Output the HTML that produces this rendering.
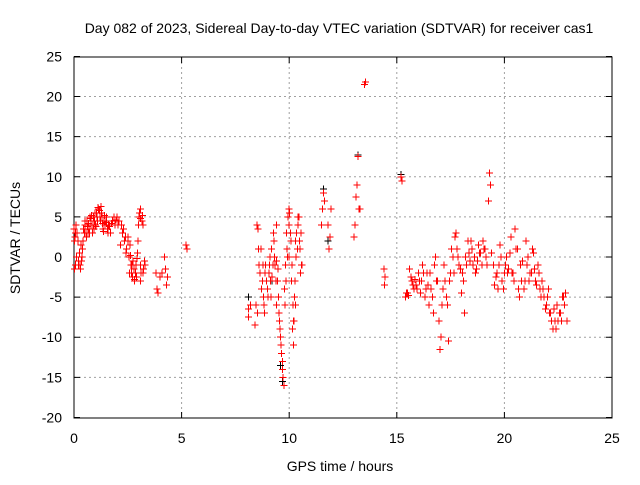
<!DOCTYPE html>
<html><head><meta charset="utf-8"><style>
body{margin:0;background:#fff}
text{font-family:"Liberation Sans",sans-serif;font-size:14px;fill:#000}
</style></head><body>
<svg id="chart" width="640" height="480" xmlns="http://www.w3.org/2000/svg">
<rect width="640" height="480" fill="#fff"/>
<text x="339" y="33" text-anchor="middle">Day 082 of 2023, Sidereal Day-to-day VTEC variation (SDTVAR) for receiver cas1</text>
<g id="grid"></g>
<g id="axes"></g>
<g id="marks" shape-rendering="crispEdges"></g>
<text x="340" y="471" text-anchor="middle">GPS time / hours</text>
<text transform="translate(20,238) rotate(-90)" text-anchor="middle">SDTVAR / TECUs</text>
</svg>
<script>
const xTicks=[0,5,10,15,20,25];
const yTicks=[25,20,15,10,5,0,-5,-10,-15,-20];
const blackTimes=[8.1,8.5,9.6,9.7,10.0,10.3,11.6,11.8,11.85,13.2,15.2,15.6,9.2];
const blackValues=[-5,4,-13.5,-15.5,6,-6,8.5,2,1,12.7,10.3,-1.5,-3];
const redTimes=[0,0.02,0.05,0.08,0.1,0.15,0.2,0.25,0.3,0.35,0.4,0.45,0.5,0.55,0.6,0.65,0.7,0.75,0.8,0.85,0.9,0.95,1.0,1.05,1.1,1.15,1.2,1.25,1.3,1.35,1.4,1.45,1.5,1.55,1.6,1.7,1.8,1.9,2.0,2.1,2.15,2.2,2.3,2.4,2.45,2.5,2.55,2.6,2.65,2.7,2.75,2.8,2.85,2.9,2.95,3.0,3.05,3.1,3.15,3.2,3.1,3.1,3.2,3.3,3.8,3.85,3.9,4.0,4.1,4.2,4.25,4.3,4.35,5.2,5.25,
8.1,8.12,8.2,8.4,8.5,8.55,8.6,8.7,8.75,8.8,8.85,8.9,9.0,9.05,9.1,9.15,9.2,9.3,9.4,9.4,9.5,9.55,9.6,9.65,9.7,9.75,9.8,9.85,9.9,9.95,10.0,10.05,10.1,10.15,10.2,10.25,10.3,10.35,10.4,10.45,10.5,10.55,10.6,10.3,9.35,9.45,10.0,10.2,
11.5,11.55,11.6,11.65,11.8,11.85,11.9,11.95,13.0,13.05,13.1,13.15,13.2,13.25,13.3,13.5,13.55,14.4,14.45,14.42,15.2,15.25,
15.4,15.5,15.6,15.7,15.8,15.9,16.0,16.1,16.2,16.3,16.4,16.5,16.6,16.7,16.8,16.9,17.0,17.05,17.1,17.15,17.2,17.3,17.4,17.5,17.6,17.7,17.8,17.9,18.0,18.1,18.15,18.2,18.3,18.4,18.5,18.6,18.7,18.8,18.9,19.0,19.1,19.2,19.25,19.3,19.35,19.4,19.5,19.6,19.7,19.8,19.9,20.0,20.1,20.2,20.3,20.4,20.5,20.6,20.7,20.8,20.9,21.0,21.1,21.2,21.3,21.4,21.5,21.6,21.7,21.8,21.9,22.0,22.1,22.2,22.3,22.4,22.5,22.6,22.7,22.8,
16.55,16.65,16.75,16.85,16.95,17.25,17.35,17.55,17.65,17.75,18.05,18.25,18.35,18.45,18.55,19.55,19.65,19.75,19.85,19.95,20.05,20.15,20.25,20.35,20.45,20.55,20.65,20.75,21.05,21.15,21.25,21.35,21.45,21.55,21.65,21.75,21.85,21.95,22.05,22.15,22.25,22.35,22.45,22.55,22.65,22.75,
0.03,0.07,0.12,0.18,0.22,0.28,0.32,0.38,0.42,0.48,0.52,0.58,0.62,0.68,0.72,0.78,0.82,0.88,0.92,0.98,1.02,1.08,1.12,1.18,1.22,1.28,1.32,1.38,1.42,1.48,1.52,1.58,1.65,1.75,1.85,1.95,2.05,2.25,2.35,2.42,2.52,2.58,2.62,2.68,2.72,2.78,2.82,2.88,2.92,2.98,3.02,3.08,3.12,3.18,3.22,3.28,
8.45,8.52,8.58,8.65,8.72,8.78,8.82,8.88,8.95,9.02,9.08,9.12,9.18,9.25,9.28,9.32,9.38,9.42,9.48,9.52,9.58,9.62,9.68,9.72,9.78,9.82,9.88,9.92,9.98,10.02,10.08,10.12,10.18,10.22,10.28,10.32,10.38,10.42,10.48,10.52,10.58,
15.45,15.55,15.65,15.75,15.85,15.95,16.05,16.15,16.25,16.35,16.45,17.45,17.85,17.95,18.65,18.75,18.85,18.95,19.05,19.15,20.85,20.95,22.85,22.9];
const redValues=[3.5,-1.5,2.5,-1,4,3,-1,0.5,-1.5,-0.5,1,3.5,4,3,4.5,3,3.5,5,4,3,5,4.5,4,5.5,4.5,6,5,6.3,5,3.5,4.5,4,5,3.5,4,3,4.5,4,5,4.5,1.5,4,3.5,2.5,1,2,0,1.5,-1,-1,-0.5,-3,-2,-2.5,0.5,4,5.5,6,4.5,4,-1,-3,-2,-1,-2,-4,-4.5,-2.5,-2,0,-1.5,-3.5,-2.5,1.5,1,
-7.5,-6.5,-6,-8.5,4,3.5,-1,1,-3,-5,-7,-1,-4,-2,0,-5,-2.5,2,4,-0.5,-5,-8,-10,-12,-14,-16,-6,-3,1,5,6,3,-3,-9,-11,-5,2,3,4,5,1,3,-1,-6,-1,-3,0,-8,
4,6,8,7,4,1,2.5,6,2.5,4,7.5,9,12.5,6,6,21.5,21.8,-1.5,-2.5,-3.5,10,9.5,
-5,-4.5,-1.5,-3,-4,-3.5,-2,-4.5,-1,-5,-2,-6,-4,-7,0,-3,-11.5,-10,-6,-4,-1,-5,-10.5,-2,0,2.5,1,-1,-4.5,-3,-7,0,2,-0.5,1,0,-1.5,1.5,0.5,2,1,-1,7,10.5,9,0.5,-1,-2.5,-4,1.5,-3,-2,0,-1.5,2.5,-2,3.5,1,-5,-3,-4,2,0,-2,1,-1.5,-3.5,-2,-5,-4,-6.5,-5,-7,-8,-6.5,-9,-8,-7,-5,-6,
-2,-5,-1,-3,-8,-3,-6,1,-2,3,-2,-1,0.5,2,-1,-3.5,-2,-1,0,-4,-1,-2,0.5,-2,-3,1,-4,-1,-1,-3,-2,0.5,-3,-1,-4,-3,-5,-6,-4,-7,-9,-8,-6,-7,-8,-5,
2,3,0,2,-0.5,-1,1.5,0,2,3,4.5,2.5,3.8,4.2,3,4.8,5.2,4,3.5,5.5,3.8,5,6.2,5.8,4.5,5.5,4.2,3.2,5.2,4.5,4.3,3,3.8,4.2,5,4.6,4,3,2,0.5,2.5,-2,0.2,-2,-2.5,-1.5,-2.8,-1,-0.2,2,5,4.8,-2,5.2,-1.5,-0.5,
-6,-7,1,-2,-4,-1,-6,-2,-3,-5,-1,-3,1,-1,3,0,-3,-6,-1.5,-7,-9,-11,-13,-15,-4,-1,3,0,4,5.5,2,-1,-6,-8,-3,0,1,5,2,-2,-1,
-4.5,-4.8,-2.5,-3.5,-2.8,-4,-3,-3,-2,-4,-3.5,-3,0,-1.5,-2,-0.5,0.5,-1,1,0,-0.5,-3,-4.5,-8,-8.5];
const X=t=>74+t*(612-74)/25, Y=v=>257-v*(361/45);
const NS="http://www.w3.org/2000/svg";
const grid=document.getElementById('grid'),axes=document.getElementById('axes'),marks=document.getElementById('marks');
function el(tag,attrs,parent){const e=document.createElementNS(NS,tag);for(const k in attrs)e.setAttribute(k,attrs[k]);parent.appendChild(e);return e;}
xTicks.forEach(t=>{
  if(t>0&&t<25){const g=el('line',{x1:X(t),x2:X(t),y1:57,y2:418,stroke:'#a0a0a0','stroke-dasharray':'2,3'},grid);
  
  }
  const tk=el('path',{d:`M${X(t)} 418v-6M${X(t)} 57v6`,stroke:'#000'},axes);
  
  
  const lb=el('text',{x:X(t),y:443,'text-anchor':'middle'},axes);lb.textContent=t;
  
  
});
yTicks.forEach(v=>{
  if(v<25&&v>-20){const g=el('line',{x1:74,x2:612,y1:Y(v),y2:Y(v),stroke:'#a0a0a0','stroke-dasharray':'2,3'},grid);
  
  }
  const tk=el('path',{d:`M74 ${Y(v)}h6M612 ${Y(v)}h-6`,stroke:'#000'},axes);
  
  
  const lb=el('text',{x:62,y:Y(v)+5,'text-anchor':'end'},axes);lb.textContent=v;
  
  
});
const fr=el('rect',{x:74,y:57,width:538,height:361,fill:'none',stroke:'#000'},axes);


function plus(t,v,c){const p=el('path',{d:`M${X(t)-3.5} ${Y(v)}h7M${X(t)} ${Y(v)-3.5}v7`,stroke:c,'stroke-width':1},marks);return p;}
blackTimes.forEach((t,i)=>{const p=plus(t,blackValues[i],'#000');
  
  });
redTimes.forEach((t,i)=>{const p=plus(t,redValues[i],'#f00');
  
  });
</script>
</body></html>
